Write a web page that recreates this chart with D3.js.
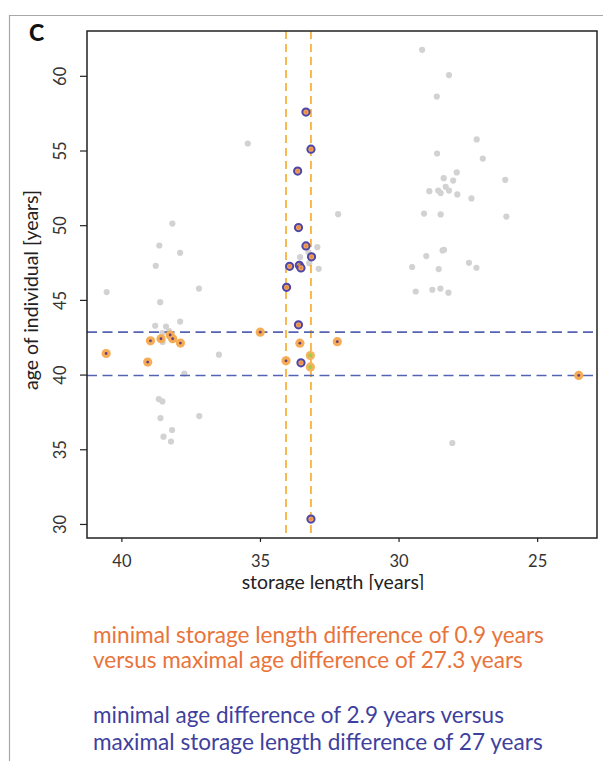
<!DOCTYPE html>
<html>
<head>
<meta charset="utf-8">
<script src="https://cdn.jsdelivr.net/npm/d3@7"></script>
<style>
  html, body { margin: 0; padding: 0; background: #fff; }
  svg { display: block; font-family: Lato, "Open Sans", sans-serif; }
</style>
</head>
<body>
<svg id="chart" width="603" height="761"></svg>
<script>
// Individuals not selected: [storage length, age]
const grayStorage = [29.15, 28.18, 28.62, 27.18, 28.61, 26.96, 35.44, 27.90, 28.37, 28.03,
  26.15, 28.89, 28.57, 28.48, 28.30, 28.18, 27.88, 27.37, 32.18, 29.08,
  28.48, 26.11, 38.16, 38.63, 37.88, 38.76, 32.93, 33.25, 33.55, 33.22,
  32.88, 28.41, 28.36, 29.00, 29.51, 28.55, 27.46, 27.19, 29.38, 28.78,
  28.49, 28.20, 28.06, 40.53, 37.20, 38.60, 37.88, 38.78, 38.39, 38.52,
  38.28, 38.51, 36.48, 37.73, 38.65, 38.52, 38.59, 37.19, 38.17, 38.48, 38.21];
const grayAge = [61.74, 60.05, 58.61, 55.74, 54.80, 54.46, 55.47, 53.53, 53.15, 52.99,
  53.04, 52.28, 52.32, 52.15, 52.57, 52.32, 52.06, 51.79, 50.74, 50.78,
  50.72, 50.58, 50.11, 48.64, 48.15, 47.28, 48.53, 48.20, 47.86, 47.46,
  47.08, 48.31, 48.35, 47.93, 47.20, 47.06, 47.48, 47.15, 45.56, 45.68,
  45.76, 45.48, 35.42, 45.52, 45.76, 44.85, 43.55, 43.27, 43.22, 42.78,
  42.91, 42.18, 41.33, 40.07, 38.36, 38.20, 37.09, 37.22, 36.29, 35.84, 35.52];

// Individuals inside the narrow storage-length window
const blueStorage = [33.34, 33.16, 33.64, 33.61, 33.34, 33.14, 33.93, 33.58, 33.52, 34.04, 33.61, 33.52, 33.16];
const blueAge     = [57.57, 55.09, 53.62, 49.84, 48.61, 47.88, 47.25, 47.32, 47.14, 45.84, 43.33, 40.79, 30.33];

// Individuals inside the narrow age window
const orangeStorage = [34.99, 38.95, 38.57, 38.24, 38.15, 37.87, 40.55, 39.05, 33.56, 32.21, 34.06, 23.50];
const orangeAge     = [42.84, 42.26, 42.40, 42.65, 42.40, 42.11, 41.41, 40.84, 42.10, 42.20, 40.92, 39.94];

// Individuals inside both windows
const bothStorage = [33.18, 33.18];
const bothAge     = [41.27, 40.51];

// Window limits
const storageLimits = [34.06, 33.16];
const ageLimits = [42.84, 39.94];

const xTicks = [40, 35, 30, 25];
const yTicks = [30, 35, 40, 45, 50, 55, 60];

const notes = [
  { text: "minimal storage length difference of 0.9 years", color: "#e8743b" },
  { text: "versus maximal age difference of 27.3 years", color: "#e8743b" },
  { text: "minimal age difference of 2.9 years versus", color: "#3f3f9e" },
  { text: "maximal storage length difference of 27 years", color: "#3f3f9e" }
];

const svg = d3.select("#chart");
const pLeft = 87, pRight = 597, pTop = 31, pBottom = 538;

const x = d3.scaleLinear().domain([41.24, 22.84]).range([pLeft, pRight]);
const y = d3.scaleLinear().domain([29.06, 63.0]).range([pBottom, pTop]);

// scale a text element's font size so that it spans the given width
function fitWidth(sel, base, width) {
  sel.attr("font-size", base);
  const w = sel.node().getComputedTextLength();
  sel.attr("font-size", base * width / w);
}

// outer panel border
svg.append("path")
  .attr("d", `M9.5,761 V15.5 H603`)
  .attr("fill", "none").attr("stroke", "#a8a8a8").attr("stroke-width", 1.2);

// panel letter
svg.append("text").attr("x", 29).attr("y", 41)
  .attr("font-family", "Lato, sans-serif").attr("font-weight", 900)
  .attr("font-size", 23).attr("fill", "#111").text("C");

const plot = svg.append("g");

// gray points
plot.selectAll("circle.gray").data(d3.range(grayStorage.length)).join("circle")
  .attr("class", "gray")
  .attr("cx", i => x(grayStorage[i])).attr("cy", i => y(grayAge[i]))
  .attr("r", 3.1).attr("fill", "#d2d2d2");

// window lines
plot.selectAll("line.vwin").data(storageLimits).join("line")
  .attr("class", "vwin")
  .attr("x1", d => x(d)).attr("x2", d => x(d))
  .attr("y1", pTop).attr("y2", pBottom)
  .attr("stroke", "#f5a31a").attr("stroke-width", 1.5)
  .attr("stroke-dasharray", "8,5");

plot.selectAll("line.hwin").data(ageLimits).join("line")
  .attr("class", "hwin")
  .attr("x1", pLeft).attr("x2", pRight)
  .attr("y1", d => y(d)).attr("y2", d => y(d))
  .attr("stroke", "#5563b3").attr("stroke-width", 1.6)
  .attr("stroke-dasharray", "10,5.5");

// orange points: light orange disc with a dark centre
const oIdx = d3.range(orangeStorage.length);
plot.selectAll("circle.orange").data(oIdx).join("circle")
  .attr("class", "orange")
  .attr("cx", i => x(orangeStorage[i])).attr("cy", i => y(orangeAge[i]))
  .attr("r", 4.6).attr("fill", "#f6ac55");
plot.selectAll("circle.orangeDot").data(oIdx).join("circle")
  .attr("class", "orangeDot")
  .attr("cx", i => x(orangeStorage[i])).attr("cy", i => y(orangeAge[i]))
  .attr("r", 1.4).attr("fill", "#6a3f7a");

// points inside both windows
const gIdx = d3.range(bothStorage.length);
plot.selectAll("circle.both").data(gIdx).join("circle")
  .attr("class", "both")
  .attr("cx", i => x(bothStorage[i])).attr("cy", i => y(bothAge[i]))
  .attr("r", 4.6).attr("fill", "#f3b45c");
plot.selectAll("circle.bothDot").data(gIdx).join("circle")
  .attr("class", "bothDot")
  .attr("cx", i => x(bothStorage[i])).attr("cy", i => y(bothAge[i]))
  .attr("r", 2).attr("fill", "#9ccf45");

// blue points: blue ring with an orange centre
const bIdx = d3.range(blueStorage.length);
plot.selectAll("circle.blue").data(bIdx).join("circle")
  .attr("class", "blue")
  .attr("cx", i => x(blueStorage[i])).attr("cy", i => y(blueAge[i]))
  .attr("r", 3.6).attr("fill", "#f0a060")
  .attr("stroke", "#4b46a8").attr("stroke-width", 2);
plot.selectAll("circle.blueDot").data(bIdx).join("circle")
  .attr("class", "blueDot")
  .attr("cx", i => x(blueStorage[i])).attr("cy", i => y(blueAge[i]))
  .attr("r", 1.3).attr("fill", "#e98a3a");

// frame
svg.append("rect").attr("x", pLeft).attr("y", pTop)
  .attr("width", pRight - pLeft).attr("height", pBottom - pTop)
  .attr("fill", "none").attr("stroke", "#222").attr("stroke-width", 1.5);

// axes
const xAxis = svg.append("g").attr("transform", `translate(0,${pBottom})`)
  .call(d3.axisBottom(x).tickValues(xTicks).tickSize(4).tickPadding(13).tickFormat(d3.format("d")));
xAxis.select(".domain").remove();
xAxis.selectAll("line").attr("stroke", "#222").attr("stroke-width", 1.2);
xAxis.selectAll("text").attr("font-size", 16.5).attr("fill", "#333")
  .attr("font-family", "Lato, sans-serif");

const yAxis = svg.append("g").attr("transform", `translate(${pLeft},0)`)
  .call(d3.axisLeft(y).tickValues(yTicks).tickSize(7).tickFormat(d3.format("d")));
yAxis.select(".domain").remove();
yAxis.selectAll("line").attr("stroke", "#222").attr("stroke-width", 1.2);
yAxis.selectAll(".tick text")
  .attr("font-size", 16.5).attr("fill", "#333").attr("font-family", "Lato, sans-serif")
  .attr("x", 0).attr("y", 0).attr("dy", null)
  .attr("text-anchor", "middle").attr("dominant-baseline", "central")
  .attr("transform", "translate(-27,0) rotate(-90)");

// axis titles
const yTitle = svg.append("text")
  .attr("transform", "translate(38,290) rotate(-90)")
  .attr("text-anchor", "middle").attr("fill", "#222")
  .text("age of individual [years]");
fitWidth(yTitle, 16, 200);

svg.append("clipPath").attr("id", "xtclip")
  .append("rect").attr("x", 0).attr("y", 570).attr("width", 603).attr("height", 20);
const xTitle = svg.append("text")
  .attr("x", 333).attr("y", 589).attr("clip-path", "url(#xtclip)")
  .attr("text-anchor", "middle").attr("fill", "#222")
  .text("storage length [years]");
fitWidth(xTitle, 16, 183);

// notes below the chart
const noteY = [643, 668, 723, 750];
const noteW = [451, 430, 411, 450];
svg.selectAll("text.note").data(notes).join("text")
  .attr("class", "note")
  .attr("x", 93).attr("y", (d, i) => noteY[i])
  .attr("fill", d => d.color)
  .text(d => d.text)
  .each(function (d, i) { fitWidth(d3.select(this), 19, noteW[i]); });
</script>
</body>
</html>
